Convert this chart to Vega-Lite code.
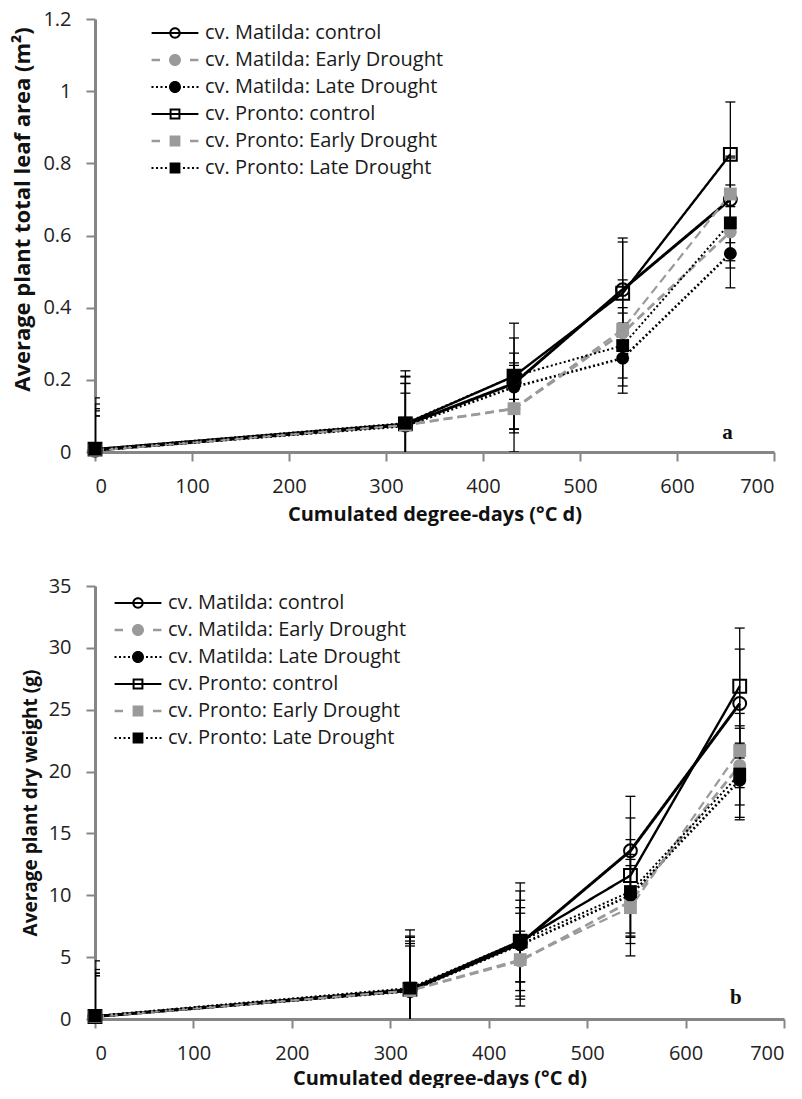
{
  "$schema": "https://vega.github.io/schema/vega-lite/v6.json",
  "background": "white",
  "padding": {"left": 11, "top": 9, "right": 12, "bottom": 0},
  "spacing": 52,
  "resolve": {
    "scale": {"color": "independent", "fill": "independent", "stroke": "independent", "shape": "independent", "strokeDash": "independent", "strokeWidth": "independent"},
    "legend": {"color": "independent", "fill": "independent", "stroke": "independent", "shape": "independent", "strokeDash": "independent", "strokeWidth": "independent"}
  },
  "datasets": {
    "leaf": [
      {"series": "cv. Matilda: control", "x": 0, "y": 0.005, "lo": -0.14, "hi": 0.15},
      {"series": "cv. Matilda: control", "x": 320, "y": 0.075, "lo": -0.075, "hi": 0.225},
      {"series": "cv. Matilda: control", "x": 432, "y": 0.19, "lo": 0.064, "hi": 0.316},
      {"series": "cv. Matilda: control", "x": 544, "y": 0.45, "lo": 0.307, "hi": 0.593},
      {"series": "cv. Matilda: control", "x": 655, "y": 0.70, "lo": 0.58, "hi": 0.82},
      {"series": "cv. Matilda: Early Drought", "x": 0, "y": 0.005, "lo": -0.104, "hi": 0.114},
      {"series": "cv. Matilda: Early Drought", "x": 320, "y": 0.075, "lo": -0.04, "hi": 0.19},
      {"series": "cv. Matilda: Early Drought", "x": 432, "y": 0.12, "lo": 0.0, "hi": 0.24},
      {"series": "cv. Matilda: Early Drought", "x": 544, "y": 0.33, "lo": 0.183, "hi": 0.477},
      {"series": "cv. Matilda: Early Drought", "x": 655, "y": 0.61, "lo": 0.51, "hi": 0.71},
      {"series": "cv. Matilda: Late Drought", "x": 0, "y": 0.005, "lo": -0.09, "hi": 0.10},
      {"series": "cv. Matilda: Late Drought", "x": 320, "y": 0.072, "lo": -0.02, "hi": 0.163},
      {"series": "cv. Matilda: Late Drought", "x": 432, "y": 0.18, "lo": 0.113, "hi": 0.247},
      {"series": "cv. Matilda: Late Drought", "x": 544, "y": 0.26, "lo": 0.163, "hi": 0.357},
      {"series": "cv. Matilda: Late Drought", "x": 655, "y": 0.55, "lo": 0.455, "hi": 0.645},
      {"series": "cv. Pronto: control", "x": 0, "y": 0.008, "lo": -0.117, "hi": 0.133},
      {"series": "cv. Pronto: control", "x": 320, "y": 0.078, "lo": -0.052, "hi": 0.208},
      {"series": "cv. Pronto: control", "x": 432, "y": 0.21, "lo": 0.063, "hi": 0.357},
      {"series": "cv. Pronto: control", "x": 544, "y": 0.44, "lo": 0.298, "hi": 0.582},
      {"series": "cv. Pronto: control", "x": 655, "y": 0.825, "lo": 0.68, "hi": 0.97},
      {"series": "cv. Pronto: Early Drought", "x": 0, "y": 0.005, "lo": -0.09, "hi": 0.10},
      {"series": "cv. Pronto: Early Drought", "x": 320, "y": 0.075, "lo": -0.04, "hi": 0.19},
      {"series": "cv. Pronto: Early Drought", "x": 432, "y": 0.12, "lo": 0.053, "hi": 0.187},
      {"series": "cv. Pronto: Early Drought", "x": 544, "y": 0.34, "lo": 0.28, "hi": 0.40},
      {"series": "cv. Pronto: Early Drought", "x": 655, "y": 0.715, "lo": 0.615, "hi": 0.815},
      {"series": "cv. Pronto: Late Drought", "x": 0, "y": 0.008, "lo": -0.104, "hi": 0.12},
      {"series": "cv. Pronto: Late Drought", "x": 320, "y": 0.08, "lo": -0.05, "hi": 0.21},
      {"series": "cv. Pronto: Late Drought", "x": 432, "y": 0.21, "lo": 0.146, "hi": 0.274},
      {"series": "cv. Pronto: Late Drought", "x": 544, "y": 0.295, "lo": 0.205, "hi": 0.385},
      {"series": "cv. Pronto: Late Drought", "x": 655, "y": 0.635, "lo": 0.53, "hi": 0.74}
    ],
    "dw": [
      {"series": "cv. Matilda: control", "x": 0, "y": 0.2, "lo": -4.3, "hi": 4.7},
      {"series": "cv. Matilda: control", "x": 320, "y": 2.3, "lo": -2.6, "hi": 7.2},
      {"series": "cv. Matilda: control", "x": 432, "y": 6.1, "lo": 1.85, "hi": 10.35},
      {"series": "cv. Matilda: control", "x": 544, "y": 13.6, "lo": 9.2, "hi": 18.0},
      {"series": "cv. Matilda: control", "x": 655, "y": 25.5, "lo": 21.1, "hi": 29.9},
      {"series": "cv. Matilda: Early Drought", "x": 0, "y": 0.2, "lo": -3.3, "hi": 3.7},
      {"series": "cv. Matilda: Early Drought", "x": 320, "y": 2.3, "lo": -1.7, "hi": 6.3},
      {"series": "cv. Matilda: Early Drought", "x": 432, "y": 4.7, "lo": 2.3, "hi": 7.1},
      {"series": "cv. Matilda: Early Drought", "x": 544, "y": 9.5, "lo": 6.6, "hi": 12.4},
      {"series": "cv. Matilda: Early Drought", "x": 655, "y": 20.5, "lo": 17.3, "hi": 23.7},
      {"series": "cv. Matilda: Late Drought", "x": 0, "y": 0.2, "lo": -3.1, "hi": 3.5},
      {"series": "cv. Matilda: Late Drought", "x": 320, "y": 2.25, "lo": -1.4, "hi": 5.9},
      {"series": "cv. Matilda: Late Drought", "x": 432, "y": 6.0, "lo": 3.0, "hi": 9.0},
      {"series": "cv. Matilda: Late Drought", "x": 544, "y": 10.0, "lo": 6.7, "hi": 13.3},
      {"series": "cv. Matilda: Late Drought", "x": 655, "y": 19.3, "lo": 16.3, "hi": 22.3},
      {"series": "cv. Pronto: control", "x": 0, "y": 0.2, "lo": -3.6, "hi": 4.0},
      {"series": "cv. Pronto: control", "x": 320, "y": 2.4, "lo": -1.9, "hi": 6.7},
      {"series": "cv. Pronto: control", "x": 432, "y": 6.3, "lo": 1.6, "hi": 11.0},
      {"series": "cv. Pronto: control", "x": 544, "y": 11.6, "lo": 6.95, "hi": 16.25},
      {"series": "cv. Pronto: control", "x": 655, "y": 26.9, "lo": 22.2, "hi": 31.6},
      {"series": "cv. Pronto: Early Drought", "x": 0, "y": 0.2, "lo": -3.3, "hi": 3.7},
      {"series": "cv. Pronto: Early Drought", "x": 320, "y": 2.3, "lo": -1.5, "hi": 6.1},
      {"series": "cv. Pronto: Early Drought", "x": 432, "y": 4.8, "lo": 1.05, "hi": 8.55},
      {"series": "cv. Pronto: Early Drought", "x": 544, "y": 9.0, "lo": 5.1, "hi": 12.9},
      {"series": "cv. Pronto: Early Drought", "x": 655, "y": 21.7, "lo": 18.7, "hi": 24.7},
      {"series": "cv. Pronto: Late Drought", "x": 0, "y": 0.25, "lo": -3.0, "hi": 3.5},
      {"series": "cv. Pronto: Late Drought", "x": 320, "y": 2.5, "lo": -1.6, "hi": 6.6},
      {"series": "cv. Pronto: Late Drought", "x": 432, "y": 6.3, "lo": 3.0, "hi": 9.6},
      {"series": "cv. Pronto: Late Drought", "x": 544, "y": 10.3, "lo": 6.1, "hi": 14.5},
      {"series": "cv. Pronto: Late Drought", "x": 655, "y": 19.8, "lo": 16.1, "hi": 23.5}
    ]
  },
  "config": {
    "view": {"stroke": null},
    "font": "Open Sans",
    "axis": {
      "grid": false,
      "domainColor": "#868686",
      "domainWidth": 3,
      "tickColor": "#868686",
      "tickWidth": 2,
      "tickSize": 9,
      "labelFont": "Open Sans",
      "labelFontSize": 20,
      "labelColor": "#222222",
      "titleFont": "Open Sans",
      "titleFontSize": 20,
      "titleFontWeight": "bold",
      "titleColor": "#111111"
    },
    "axisX": {"labelPadding": 15, "titlePadding": 8},
    "axisY": {"labelPadding": 15, "titlePadding": 8},
    "legend": {"labelLimit": 0}
  },
  "vconcat": [
    {
      "width": 679,
      "height": 433,
      "data": {"name": "leaf"},
      "layer": [
        {
          "mark": {"type": "line"},
          "encoding": {
            "x": {"field": "x", "type": "quantitative", "scale": {"domain": [0, 700], "nice": false}, "axis": {"values": [0, 100, 200, 300, 400, 500, 600, 700], "title": "Cumulated degree-days (°C d)"}},
            "y": {"field": "y", "type": "quantitative", "scale": {"domain": [0, 1.2], "nice": false}, "axis": {"values": [0, 0.2, 0.4, 0.6, 0.8, 1, 1.2], "format": "~g", "titleFontSize": 22, "titleY": 190}, "title": "Average plant total leaf area (m²)"},
            "detail": {"field": "series"},
            "stroke": {"field": "series", "type": "nominal", "legend": null, "scale": {"domain": ["cv. Pronto: Late Drought", "cv. Pronto: Early Drought", "cv. Pronto: control", "cv. Matilda: Late Drought", "cv. Matilda: Early Drought", "cv. Matilda: control"], "range": ["#000000", "#9a9a9a", "#000000", "#000000", "#9a9a9a", "#000000"]}},
            "strokeDash": {"field": "series", "type": "nominal", "legend": null, "scale": {"domain": ["cv. Pronto: Late Drought", "cv. Pronto: Early Drought", "cv. Pronto: control", "cv. Matilda: Late Drought", "cv. Matilda: Early Drought", "cv. Matilda: control"], "range": [[2, 2.5], [9, 5], [1, 0], [2, 2.5], [9, 5], [1, 0]]}},
            "strokeWidth": {"field": "series", "type": "nominal", "legend": null, "scale": {"domain": ["cv. Pronto: Late Drought", "cv. Pronto: Early Drought", "cv. Pronto: control", "cv. Matilda: Late Drought", "cv. Matilda: Early Drought", "cv. Matilda: control"], "range": [2, 3, 2, 2, 3, 2]}}
          }
        },
        {
          "mark": {"type": "rule", "color": "#000000", "strokeWidth": 1.3, "clip": true},
          "encoding": {
            "x": {"field": "x", "type": "quantitative"},
            "y": {"field": "lo", "type": "quantitative", "title": "Average plant total leaf area (m²)"},
            "y2": {"field": "hi"}
          }
        },
        {
          "mark": {"type": "tick", "orient": "horizontal", "color": "#000000", "size": 10, "thickness": 1.3, "clip": true, "opacity": 1},
          "encoding": {
            "x": {"field": "x", "type": "quantitative"},
            "y": {"field": "hi", "type": "quantitative", "title": "Average plant total leaf area (m²)"}
          }
        },
        {
          "mark": {"type": "tick", "orient": "horizontal", "color": "#000000", "size": 10, "thickness": 1.3, "clip": true, "opacity": 1},
          "encoding": {
            "x": {"field": "x", "type": "quantitative"},
            "y": {"field": "lo", "type": "quantitative", "title": "Average plant total leaf area (m²)"}
          }
        },
        {
          "transform": [{"filter": {"field": "series", "equal": "cv. Matilda: control"}}],
          "mark": {"type": "point", "shape": "circle", "filled": false, "opacity": 1, "size": 165, "strokeWidth": 2, "color": "#000000"},
          "encoding": {
            "x": {"field": "x", "type": "quantitative"},
            "y": {"field": "y", "type": "quantitative", "title": "Average plant total leaf area (m²)"}
          }
        },
        {
          "transform": [{"filter": {"field": "series", "equal": "cv. Pronto: control"}}],
          "mark": {"type": "point", "shape": "square", "filled": false, "opacity": 1, "size": 165, "strokeWidth": 2, "color": "#000000"},
          "encoding": {
            "x": {"field": "x", "type": "quantitative"},
            "y": {"field": "y", "type": "quantitative", "title": "Average plant total leaf area (m²)"}
          }
        },
        {
          "transform": [{"filter": {"field": "series", "oneOf": ["cv. Matilda: Early Drought", "cv. Matilda: Late Drought"]}}],
          "mark": {"type": "point", "shape": "circle", "filled": true, "opacity": 1, "size": 165},
          "encoding": {
            "x": {"field": "x", "type": "quantitative"},
            "y": {"field": "y", "type": "quantitative", "title": "Average plant total leaf area (m²)"},
            "fill": {"field": "series", "type": "nominal", "legend": null, "scale": {"domain": ["cv. Pronto: Late Drought", "cv. Pronto: Early Drought", "cv. Pronto: control", "cv. Matilda: Late Drought", "cv. Matilda: Early Drought", "cv. Matilda: control"], "range": ["#000000", "#9a9a9a", "#000000", "#000000", "#9a9a9a", "#000000"]}}
          }
        },
        {
          "transform": [{"filter": {"field": "series", "oneOf": ["cv. Pronto: Early Drought", "cv. Pronto: Late Drought"]}}],
          "mark": {"type": "point", "shape": "square", "filled": true, "opacity": 1, "size": 165},
          "encoding": {
            "x": {"field": "x", "type": "quantitative"},
            "y": {"field": "y", "type": "quantitative", "title": "Average plant total leaf area (m²)"},
            "fill": {"field": "series", "type": "nominal", "legend": null}
          }
        },
        {
          "data": {"values": [{"x": 652, "y": 0.053, "t": "a"}]},
          "mark": {"type": "text", "font": "Liberation Serif", "fontSize": 21, "fontWeight": "bold", "color": "#111111"},
          "encoding": {
            "x": {"field": "x", "type": "quantitative"},
            "y": {"field": "y", "type": "quantitative", "title": "Average plant total leaf area (m²)"},
            "text": {"field": "t"}
          }
        },
        {
          "transform": [{"filter": {"field": "x", "equal": 0}}],
          "mark": {"type": "point", "filled": true, "opacity": 1, "clip": true},
          "encoding": {
            "x": {"field": "x", "type": "quantitative"},
            "y": {"field": "lo", "type": "quantitative", "title": "Average plant total leaf area (m²)"},
            "color": {"field": "series", "type": "nominal", "scale": {"domain": ["cv. Matilda: control", "cv. Matilda: Early Drought", "cv. Matilda: Late Drought", "cv. Pronto: control", "cv. Pronto: Early Drought", "cv. Pronto: Late Drought"], "range": ["#000000", "#9a9a9a", "#000000", "#000000", "#9a9a9a", "#000000"]},
              "legend": {"title": null, "orient": "none", "direction": "vertical", "legendX": 70, "legendY": 4, "labelFont": "Open Sans", "labelFontSize": 20, "labelColor": "#1a1a1a", "labelLimit": 0, "symbolSize": 144, "symbolStrokeWidth": 0, "symbolOpacity": 1, "labelOffset": 20, "rowPadding": 7, "padding": 0}},
            "shape": {"field": "series", "type": "nominal",
              "scale": {"domain": ["cv. Matilda: control", "cv. Matilda: Early Drought", "cv. Matilda: Late Drought", "cv. Pronto: control", "cv. Pronto: Early Drought", "cv. Pronto: Late Drought"],
                "range": [
                  "M-3.9,-0.17H3.9V0.17H-3.9ZM0.95,0A0.95,0.95,0,1,1,-0.95,0A0.95,0.95,0,1,1,0.95,0ZM0.62,0A0.62,0.62,0,1,0,-0.62,0A0.62,0.62,0,1,0,0.62,0Z",
                  "M-3.9,-0.22H-2.5V0.22H-3.9ZM2.5,-0.22H3.9V0.22H2.5ZM1,0A1,1,0,1,1,-1,0A1,1,0,1,1,1,0Z",
                  "M-3.92,-0.17H-3.58V0.17H-3.92ZM-3.17,-0.17H-2.83V0.17H-3.17ZM-2.42,-0.17H-2.08V0.17H-2.42ZM-1.67,-0.17H-1.33V0.17H-1.67ZM1.33,-0.17H1.67V0.17H1.33ZM2.08,-0.17H2.42V0.17H2.08ZM2.83,-0.17H3.17V0.17H2.83ZM3.58,-0.17H3.92V0.17H3.58ZM1,0A1,1,0,1,1,-1,0A1,1,0,1,1,1,0Z",
                  "M-3.9,-0.17H3.9V0.17H-3.9ZM-0.9,-0.9H0.9V0.9H-0.9ZM-0.57,-0.57V0.57H0.57V-0.57Z",
                  "M-3.9,-0.22H-2.5V0.22H-3.9ZM2.5,-0.22H3.9V0.22H2.5ZM-0.9,-0.9H0.9V0.9H-0.9Z",
                  "M-3.92,-0.17H-3.58V0.17H-3.92ZM-3.17,-0.17H-2.83V0.17H-3.17ZM-2.42,-0.17H-2.08V0.17H-2.42ZM-1.67,-0.17H-1.33V0.17H-1.67ZM1.33,-0.17H1.67V0.17H1.33ZM2.08,-0.17H2.42V0.17H2.08ZM2.83,-0.17H3.17V0.17H2.83ZM3.58,-0.17H3.92V0.17H3.58ZM-0.9,-0.9H0.9V0.9H-0.9Z"
                ]}}
          }
        }
      ]
    },
    {
      "width": 689,
      "height": 433,
      "data": {"name": "dw"},
      "layer": [
        {
          "mark": {"type": "line"},
          "encoding": {
            "x": {"field": "x", "type": "quantitative", "scale": {"domain": [0, 700], "nice": false}, "axis": {"values": [0, 100, 200, 300, 400, 500, 600, 700], "title": "Cumulated degree-days (°C d)", "titlePadding": 5}},
            "y": {"field": "y", "type": "quantitative", "scale": {"domain": [0, 35], "nice": false}, "axis": {"values": [0, 5, 10, 15, 20, 25, 30, 35], "titleFontSize": 19}, "title": "Average plant dry weight (g)"},
            "detail": {"field": "series"},
            "stroke": {"field": "series", "type": "nominal", "legend": null, "scale": {"domain": ["cv. Pronto: Late Drought", "cv. Pronto: Early Drought", "cv. Pronto: control", "cv. Matilda: Late Drought", "cv. Matilda: Early Drought", "cv. Matilda: control"], "range": ["#000000", "#9a9a9a", "#000000", "#000000", "#9a9a9a", "#000000"]}},
            "strokeDash": {"field": "series", "type": "nominal", "legend": null, "scale": {"domain": ["cv. Pronto: Late Drought", "cv. Pronto: Early Drought", "cv. Pronto: control", "cv. Matilda: Late Drought", "cv. Matilda: Early Drought", "cv. Matilda: control"], "range": [[2, 2.5], [9, 5], [1, 0], [2, 2.5], [9, 5], [1, 0]]}},
            "strokeWidth": {"field": "series", "type": "nominal", "legend": null, "scale": {"domain": ["cv. Pronto: Late Drought", "cv. Pronto: Early Drought", "cv. Pronto: control", "cv. Matilda: Late Drought", "cv. Matilda: Early Drought", "cv. Matilda: control"], "range": [2, 3, 2, 2, 3, 2]}}
          }
        },
        {
          "mark": {"type": "rule", "color": "#000000", "strokeWidth": 1.3, "clip": true},
          "encoding": {
            "x": {"field": "x", "type": "quantitative"},
            "y": {"field": "lo", "type": "quantitative", "title": "Average plant dry weight (g)"},
            "y2": {"field": "hi"}
          }
        },
        {
          "mark": {"type": "tick", "orient": "horizontal", "color": "#000000", "size": 10, "thickness": 1.3, "clip": true, "opacity": 1},
          "encoding": {
            "x": {"field": "x", "type": "quantitative"},
            "y": {"field": "hi", "type": "quantitative", "title": "Average plant dry weight (g)"}
          }
        },
        {
          "mark": {"type": "tick", "orient": "horizontal", "color": "#000000", "size": 10, "thickness": 1.3, "clip": true, "opacity": 1},
          "encoding": {
            "x": {"field": "x", "type": "quantitative"},
            "y": {"field": "lo", "type": "quantitative", "title": "Average plant dry weight (g)"}
          }
        },
        {
          "transform": [{"filter": {"field": "series", "equal": "cv. Matilda: control"}}],
          "mark": {"type": "point", "shape": "circle", "filled": false, "opacity": 1, "size": 165, "strokeWidth": 2, "color": "#000000"},
          "encoding": {
            "x": {"field": "x", "type": "quantitative"},
            "y": {"field": "y", "type": "quantitative", "title": "Average plant dry weight (g)"}
          }
        },
        {
          "transform": [{"filter": {"field": "series", "equal": "cv. Pronto: control"}}],
          "mark": {"type": "point", "shape": "square", "filled": false, "opacity": 1, "size": 165, "strokeWidth": 2, "color": "#000000"},
          "encoding": {
            "x": {"field": "x", "type": "quantitative"},
            "y": {"field": "y", "type": "quantitative", "title": "Average plant dry weight (g)"}
          }
        },
        {
          "transform": [{"filter": {"field": "series", "oneOf": ["cv. Matilda: Early Drought", "cv. Matilda: Late Drought"]}}],
          "mark": {"type": "point", "shape": "circle", "filled": true, "opacity": 1, "size": 165},
          "encoding": {
            "x": {"field": "x", "type": "quantitative"},
            "y": {"field": "y", "type": "quantitative", "title": "Average plant dry weight (g)"},
            "fill": {"field": "series", "type": "nominal", "legend": null, "scale": {"domain": ["cv. Pronto: Late Drought", "cv. Pronto: Early Drought", "cv. Pronto: control", "cv. Matilda: Late Drought", "cv. Matilda: Early Drought", "cv. Matilda: control"], "range": ["#000000", "#9a9a9a", "#000000", "#000000", "#9a9a9a", "#000000"]}}
          }
        },
        {
          "transform": [{"filter": {"field": "series", "oneOf": ["cv. Pronto: Early Drought", "cv. Pronto: Late Drought"]}}],
          "mark": {"type": "point", "shape": "square", "filled": true, "opacity": 1, "size": 165},
          "encoding": {
            "x": {"field": "x", "type": "quantitative"},
            "y": {"field": "y", "type": "quantitative", "title": "Average plant dry weight (g)"},
            "fill": {"field": "series", "type": "nominal", "legend": null}
          }
        },
        {
          "data": {"values": [{"x": 651, "y": 1.7, "t": "b"}]},
          "mark": {"type": "text", "font": "Liberation Serif", "fontSize": 21, "fontWeight": "bold", "color": "#111111"},
          "encoding": {
            "x": {"field": "x", "type": "quantitative"},
            "y": {"field": "y", "type": "quantitative", "title": "Average plant dry weight (g)"},
            "text": {"field": "t"}
          }
        },
        {
          "transform": [{"filter": {"field": "x", "equal": 0}}],
          "mark": {"type": "point", "filled": true, "opacity": 1, "clip": true},
          "encoding": {
            "x": {"field": "x", "type": "quantitative"},
            "y": {"field": "lo", "type": "quantitative", "title": "Average plant dry weight (g)"},
            "color": {"field": "series", "type": "nominal", "scale": {"domain": ["cv. Matilda: control", "cv. Matilda: Early Drought", "cv. Matilda: Late Drought", "cv. Pronto: control", "cv. Pronto: Early Drought", "cv. Pronto: Late Drought"], "range": ["#000000", "#9a9a9a", "#000000", "#000000", "#9a9a9a", "#000000"]},
              "legend": {"title": null, "orient": "none", "direction": "vertical", "legendX": 33, "legendY": 7, "labelFont": "Open Sans", "labelFontSize": 20, "labelColor": "#1a1a1a", "labelLimit": 0, "symbolSize": 144, "symbolStrokeWidth": 0, "symbolOpacity": 1, "labelOffset": 20, "rowPadding": 7, "padding": 0}},
            "shape": {"field": "series", "type": "nominal",
              "scale": {"domain": ["cv. Matilda: control", "cv. Matilda: Early Drought", "cv. Matilda: Late Drought", "cv. Pronto: control", "cv. Pronto: Early Drought", "cv. Pronto: Late Drought"],
                "range": [
                  "M-3.9,-0.17H3.9V0.17H-3.9ZM0.95,0A0.95,0.95,0,1,1,-0.95,0A0.95,0.95,0,1,1,0.95,0ZM0.62,0A0.62,0.62,0,1,0,-0.62,0A0.62,0.62,0,1,0,0.62,0Z",
                  "M-3.9,-0.22H-2.5V0.22H-3.9ZM2.5,-0.22H3.9V0.22H2.5ZM1,0A1,1,0,1,1,-1,0A1,1,0,1,1,1,0Z",
                  "M-3.92,-0.17H-3.58V0.17H-3.92ZM-3.17,-0.17H-2.83V0.17H-3.17ZM-2.42,-0.17H-2.08V0.17H-2.42ZM-1.67,-0.17H-1.33V0.17H-1.67ZM1.33,-0.17H1.67V0.17H1.33ZM2.08,-0.17H2.42V0.17H2.08ZM2.83,-0.17H3.17V0.17H2.83ZM3.58,-0.17H3.92V0.17H3.58ZM1,0A1,1,0,1,1,-1,0A1,1,0,1,1,1,0Z",
                  "M-3.9,-0.17H3.9V0.17H-3.9ZM-0.9,-0.9H0.9V0.9H-0.9ZM-0.57,-0.57V0.57H0.57V-0.57Z",
                  "M-3.9,-0.22H-2.5V0.22H-3.9ZM2.5,-0.22H3.9V0.22H2.5ZM-0.9,-0.9H0.9V0.9H-0.9Z",
                  "M-3.92,-0.17H-3.58V0.17H-3.92ZM-3.17,-0.17H-2.83V0.17H-3.17ZM-2.42,-0.17H-2.08V0.17H-2.42ZM-1.67,-0.17H-1.33V0.17H-1.67ZM1.33,-0.17H1.67V0.17H1.33ZM2.08,-0.17H2.42V0.17H2.08ZM2.83,-0.17H3.17V0.17H2.83ZM3.58,-0.17H3.92V0.17H3.58ZM-0.9,-0.9H0.9V0.9H-0.9Z"
                ]}}
          }
        }
      ]
    }
  ]
}
